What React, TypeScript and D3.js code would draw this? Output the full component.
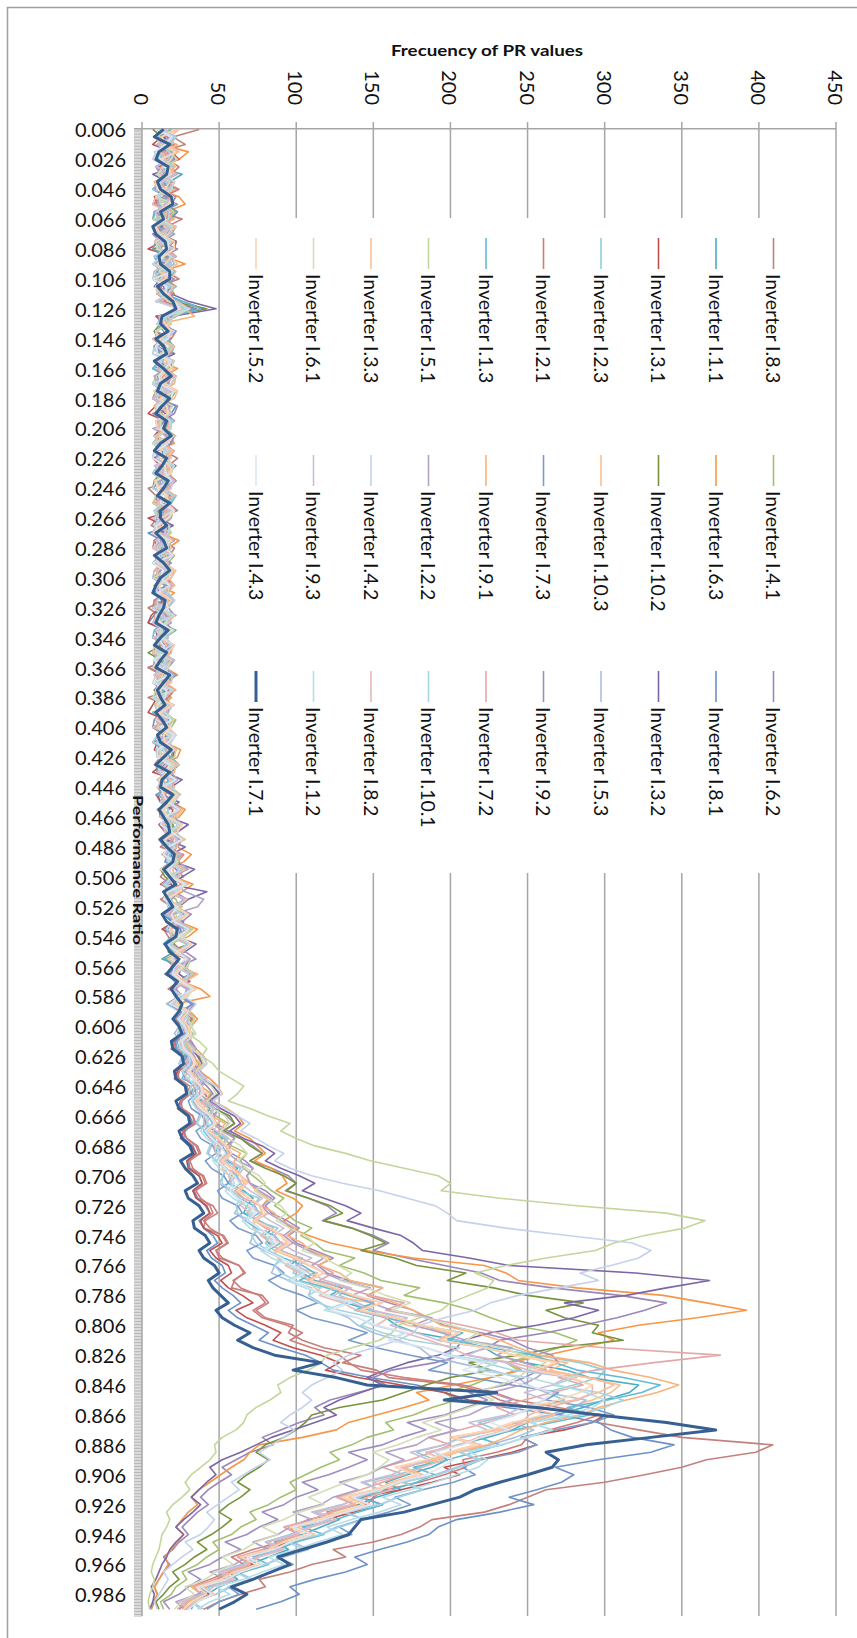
import React from 'react';
import * as d3 from 'd3';

const WIDTH = 857;
const HEIGHT = 1638;

const seriesNames = [
  'Inverter I.8.3', 'Inverter I.4.1', 'Inverter I.6.2',
  'Inverter I.1.1', 'Inverter I.6.3', 'Inverter I.8.1',
  'Inverter I.3.1', 'Inverter I.10.2', 'Inverter I.3.2',
  'Inverter I.2.3', 'Inverter I.10.3', 'Inverter I.5.3',
  'Inverter I.2.1', 'Inverter I.7.3', 'Inverter I.9.2',
  'Inverter I.1.3', 'Inverter I.9.1', 'Inverter I.7.2',
  'Inverter I.5.1', 'Inverter I.2.2', 'Inverter I.10.1',
  'Inverter I.3.3', 'Inverter I.4.2', 'Inverter I.8.2',
  'Inverter I.6.1', 'Inverter I.9.3', 'Inverter I.1.2',
  'Inverter I.5.2', 'Inverter I.4.3', 'Inverter I.7.1',
];

const seriesColors = [
  '#C4807D', '#A3C070', '#9B87BA',
  '#4BACC6', '#F79646', '#6C91C8',
  '#C0504D', '#77933C', '#7C66A6',
  '#92CDDC', '#FAC090', '#A7C0DE',
  '#D07C79', '#7B9BCB', '#A08DBF',
  '#62BCD3', '#F9B37A', '#E2A9A8',
  '#C3D69B', '#B3A2C7', '#A5D5E2',
  '#FABF9A', '#C4D2EA', '#E6B9B8',
  '#D3DDB8', '#C8BEDA', '#B7DEE8',
  '#FCD5B5', '#DCE6F2', '#376092',
];

// Performance-ratio bins sampled every 0.005, from 0.006 to 0.996
const prSamples = d3.range(199).map((i) => +(0.006 + 0.005 * i).toFixed(3));
const categoryTickLabels = d3.range(50).map((i) => (0.006 + 0.02 * i).toFixed(3));
const frequencyTicks = [0, 50, 100, 150, 200, 250, 300, 350, 400, 450];

const inverterI83 = [
  37,20,28,12,17,24,19,9,10,18,19,11,26,16,12,22,21,14,7,15,
  24,11,17,22,31,18,15,20,10,13,21,8,12,19,17,11,7,16,19,9,
  15,21,10,14,23,17,12,20,4,9,17,23,10,6,15,12,21,18,7,20,
  12,16,10,14,4,11,15,19,10,16,7,12,17,8,12,18,4,15,10,21,
  15,11,7,19,12,8,17,22,10,14,19,10,15,18,23,13,17,25,21,16,
  12,19,24,12,19,27,23,14,17,21,26,15,21,18,28,20,24,16,27,
  22,26,28,20,22,29,30,23,24,31,32,25,26,33,35,27,29,36,38,30,
  31,40,42,34,36,46,49,41,40,53,56,48,50,63,66,60,58,78,82,74,
  80,98,95,104,118,142,130,152,160,204,222,232,252,300,295,322,350,409,398,366,
  350,326,300,262,250,238,222,188,180,168,150,124,132,110,96,76,80,64,50,40,
];
const inverterI41 = [
  15,9,21,13,10,20,19,8,12,17,7,22,17,11,15,20,10,14,19,8,
  12,18,21,11,25,16,10,21,15,9,17,12,7,18,12,22,19,13,10,20,
  15,8,12,19,17,10,7,16,10,22,15,11,19,9,12,17,10,21,17,12,
  7,18,15,8,10,20,12,16,17,9,10,14,7,19,15,11,12,18,10,22,
  19,11,12,20,15,9,10,23,17,12,19,14,15,24,21,11,17,20,23,14,
  19,26,15,22,24,13,21,17,19,29,26,16,23,19,21,30,27,18,28,
  24,28,33,31,27,30,37,35,33,38,45,42,43,48,56,52,53,58,68,64,
  66,72,78,84,92,86,93,99,110,103,112,118,138,128,144,155,180,170,196,214,
  226,240,268,282,270,255,236,244,226,214,196,204,188,176,158,163,146,136,122,128,
  116,106,96,100,90,82,70,74,64,58,46,50,42,36,26,29,22,19,12,14,
];
const inverterI62 = [
  15,20,10,16,21,9,17,13,12,22,19,8,7,18,17,11,23,14,10,19,
  15,9,12,21,28,14,17,8,10,20,15,12,19,10,12,18,10,23,21,13,
  15,19,7,14,17,9,12,20,10,16,15,10,19,13,10,21,12,17,7,15,
  17,9,10,20,15,11,12,18,7,16,10,21,17,13,12,8,15,19,7,14,
  10,18,19,12,12,22,17,10,15,24,21,13,12,19,19,26,23,15,17,22,
  27,16,21,29,24,17,19,25,26,14,23,31,28,20,24,18,27,22,30,
  33,28,30,26,29,34,36,31,37,42,46,40,47,55,60,53,64,72,78,70,
  84,95,100,93,108,120,126,117,136,150,160,150,172,196,220,232,266,310,340,326,
  308,286,262,232,224,208,190,162,150,158,140,122,112,118,102,90,78,85,70,61,
  52,58,50,43,38,43,36,31,26,30,24,20,14,18,14,11,8,10,8,6,
];
const inverterI11 = [
  21,15,12,23,17,9,26,18,7,20,15,11,10,22,19,9,12,16,17,13,
  7,19,15,24,32,10,12,20,10,15,19,8,15,21,7,14,12,18,17,9,
  10,21,15,8,7,17,12,14,19,9,10,22,12,16,7,19,15,10,10,20,
  17,8,12,19,7,15,10,22,15,11,12,17,4,13,10,21,17,9,12,18,
  7,20,15,10,10,24,19,13,12,21,17,11,15,25,19,14,23,17,15,27,
  21,14,17,28,24,16,19,30,23,18,21,13,26,31,23,19,24,20,28,
  22,25,30,27,25,29,31,33,37,34,32,39,44,41,40,47,52,49,48,56,
  62,58,56,66,72,68,66,76,85,79,82,90,102,96,104,112,130,122,132,148,
  158,165,178,205,222,230,248,275,290,322,316,300,286,268,250,240,224,205,190,198,
  188,172,158,168,152,140,120,128,116,104,86,95,82,70,56,62,50,42,34,32,
];
const inverterI63 = [
  19,14,12,30,24,11,15,20,10,24,28,16,17,9,12,22,21,15,28,13,
  15,22,10,18,26,12,19,9,12,20,17,11,23,14,10,21,15,8,19,13,
  12,18,21,9,10,16,17,22,15,10,7,20,19,11,12,24,17,9,10,19,
  15,8,21,14,10,22,12,17,17,9,7,18,15,23,12,10,19,14,10,20,
  17,11,15,25,23,13,12,20,21,15,19,28,24,14,17,22,23,32,27,16,
  21,33,26,17,19,27,24,36,30,18,23,20,27,34,26,38,44,22,31,
  36,32,28,31,35,40,42,37,44,49,52,46,55,62,66,60,70,75,80,73,
  84,91,94,87,98,104,100,92,96,108,122,145,176,222,236,244,282,338,366,392,
  360,322,296,306,284,262,238,246,226,202,178,186,170,152,134,126,104,76,70,66,
  58,51,44,37,32,36,30,26,22,27,23,19,15,17,14,11,8,10,7,6,
];
const inverterI81 = [
  10,22,17,9,12,18,21,11,7,16,15,23,19,12,10,20,17,8,12,19,
  7,14,15,26,40,13,10,18,17,9,12,21,7,16,15,8,10,22,19,12,
  12,20,7,13,15,9,10,19,17,11,12,15,10,20,4,13,15,8,12,18,
  7,16,10,21,15,8,4,14,12,19,10,9,7,17,15,12,10,20,12,8,
  7,18,17,10,10,22,15,12,19,9,12,24,17,14,21,11,15,23,19,13,
  23,16,17,27,21,14,19,25,24,17,21,30,23,15,26,20,24,32,28,
  20,25,27,22,21,27,29,24,23,29,31,26,25,31,33,28,27,33,35,30,
  31,37,39,33,36,41,44,37,40,46,49,42,45,52,54,47,52,59,64,56,
  62,72,82,76,90,106,116,124,148,178,196,208,236,272,296,304,318,345,330,296,
  268,280,272,256,238,254,232,204,192,186,172,154,138,146,132,112,96,102,90,74,
];
const inverterI31 = [
  17,13,7,19,24,10,12,21,19,8,10,16,15,9,21,13,4,20,17,11,
  12,22,10,17,35,9,15,20,7,13,19,10,12,18,10,14,17,9,4,15,
  12,8,15,20,7,12,19,9,10,17,12,21,4,14,17,8,10,16,7,19,
  15,9,10,18,12,6,4,16,10,20,15,9,7,14,12,18,10,7,4,15,
  12,19,10,8,17,13,7,22,15,10,12,20,19,11,15,24,21,14,17,26,
  19,12,23,17,17,28,21,13,24,20,19,29,26,16,23,21,27,18,24,
  20,24,26,21,19,26,28,23,21,28,30,25,23,30,32,27,25,32,35,29,
  30,37,39,33,35,42,44,38,40,49,52,44,48,56,58,51,56,65,72,61,
  68,80,90,85,98,116,128,119,140,168,196,212,252,300,292,274,246,256,240,218,
  196,206,188,168,142,156,138,118,100,110,96,80,64,72,60,48,38,43,34,28,
];
const inverterI102 = [
  7,13,17,9,12,20,21,11,10,18,15,9,19,14,12,22,7,16,17,10,
  15,21,10,19,42,14,12,8,17,20,10,13,15,22,19,9,7,17,12,20,
  17,9,10,16,15,21,12,8,7,18,19,11,10,14,15,20,12,9,10,17,
  17,11,7,19,12,8,15,20,10,13,4,12,12,19,17,8,10,16,15,21,
  7,16,12,22,19,10,10,18,17,24,15,11,12,20,21,14,17,25,19,12,
  15,21,23,14,19,28,24,16,21,31,17,22,26,15,23,34,28,19,27,
  32,30,26,27,33,37,40,35,38,46,50,42,47,57,60,53,64,70,78,70,
  80,92,100,94,108,122,130,118,136,148,158,142,164,178,210,198,228,250,286,262,
  274,296,292,312,268,244,212,226,200,184,170,156,128,110,106,100,92,80,74,82,
  76,68,62,70,64,56,50,58,52,45,36,42,34,28,20,24,18,14,9,11,
];
const inverterI32 = [
  10,14,19,11,15,21,7,16,23,9,12,18,17,13,10,22,21,9,15,19,
  12,8,19,30,48,20,10,17,15,9,21,12,12,19,7,15,17,10,15,21,
  10,16,19,9,12,22,17,11,7,18,15,8,10,20,12,14,19,9,10,17,
  15,21,7,13,12,19,17,9,10,16,19,11,12,20,7,14,15,9,10,18,
  17,10,12,20,21,14,15,26,19,12,24,17,17,30,23,16,28,19,21,34,
  26,18,42,30,24,16,27,22,23,35,28,19,26,24,31,18,27,33,25,
  31,30,25,27,32,36,39,33,38,46,50,44,51,60,64,57,66,78,86,80,
  90,102,112,104,118,132,142,133,150,168,176,182,212,238,320,368,340,314,274,296,
  280,256,226,208,204,192,172,158,146,156,142,128,118,126,112,98,84,74,64,52,
  44,48,42,37,32,38,33,27,22,27,22,18,16,13,11,9,6,8,7,5,
];
const inverterI23 = [
  12,17,19,8,15,21,10,14,21,9,17,11,12,20,7,16,15,10,19,13,
  10,22,17,9,27,14,15,20,12,8,7,18,17,12,10,21,15,9,12,17,
  19,11,7,18,10,14,15,9,12,21,17,8,10,16,7,19,12,10,15,20,
  10,15,17,8,12,19,7,13,10,21,15,10,12,17,10,14,7,20,17,11,
  12,19,15,9,10,21,12,17,19,11,15,23,17,13,21,16,12,25,19,14,
  23,15,17,28,21,14,24,19,19,29,23,17,26,20,21,30,27,16,24,
  30,27,23,26,32,30,27,31,39,36,33,37,46,43,40,44,55,51,48,53,
  64,61,57,63,76,72,68,74,88,83,80,86,104,100,98,108,134,128,140,150,
  166,182,196,204,238,256,284,300,296,280,262,274,256,240,218,230,208,196,178,190,
  180,166,144,154,142,130,112,122,108,96,80,88,74,64,50,55,44,38,24,29,
];
const inverterI103 = [
  24,18,15,11,19,22,10,17,23,9,12,20,17,14,21,10,10,19,15,22,
  19,9,12,23,31,16,17,9,10,20,15,12,21,8,12,18,7,14,17,10,
  15,22,10,17,19,9,12,20,17,11,10,21,15,9,7,16,19,12,12,19,
  10,21,17,9,15,18,10,13,12,20,7,15,17,9,10,19,15,11,12,20,
  10,16,19,11,15,24,12,18,21,12,17,26,23,14,15,22,21,13,19,27,
  24,16,17,29,23,15,26,19,21,32,24,18,27,21,23,33,28,20,31,
  26,29,32,27,25,31,36,34,30,33,42,40,36,39,50,46,44,48,58,54,
  52,57,68,64,62,67,78,73,72,78,92,86,88,94,114,108,112,120,150,142,
  160,172,200,192,222,242,276,264,288,310,304,292,276,266,244,228,200,216,200,188,
  170,182,168,156,134,146,130,118,100,111,96,87,68,77,62,55,40,46,34,28,
];
const inverterI53 = [
  10,21,17,9,12,16,19,11,7,20,15,9,12,22,17,13,10,18,21,12,
  15,20,10,16,27,11,12,19,17,9,10,14,7,20,15,11,19,9,12,21,
  10,15,17,8,12,20,7,13,15,21,10,17,19,9,12,16,10,19,15,8,
  7,18,12,21,17,9,10,14,15,20,10,8,7,17,12,19,15,10,10,20,
  17,10,12,21,10,16,15,11,12,22,19,13,17,25,15,20,21,14,17,24,
  19,13,23,17,19,28,24,15,21,30,23,18,26,16,24,32,28,19,27,
  28,24,21,26,30,28,24,27,34,32,30,35,40,37,35,41,48,45,43,48,
  55,53,50,57,66,63,60,68,76,72,70,79,90,86,84,95,110,108,116,122,
  134,140,150,166,180,186,204,226,244,250,262,288,280,264,240,254,242,226,206,218,
  204,190,170,182,166,154,132,144,126,116,98,108,92,80,62,72,58,48,32,40,
];
const inverterI21 = [
  12,16,21,9,10,19,17,11,24,14,7,20,15,9,19,13,12,22,10,18,
  17,9,21,14,30,16,12,22,19,8,10,17,15,21,7,13,17,9,12,19,
  10,20,19,9,15,11,7,18,12,21,17,10,10,16,15,8,7,19,12,15,
  10,19,17,8,7,16,12,20,15,9,10,18,4,13,12,21,17,9,10,16,
  7,20,15,10,12,18,10,22,17,11,15,24,21,13,17,20,12,27,23,14,
  19,26,17,13,24,18,21,30,19,16,26,20,23,31,24,17,27,21,26,
  22,26,27,20,22,28,29,24,23,29,31,25,26,33,34,26,29,35,37,31,
  33,39,41,35,38,44,46,40,44,52,55,48,52,63,67,59,64,76,80,72,
  78,94,104,96,110,128,134,142,170,208,228,242,270,296,282,264,250,246,230,208,
  210,196,180,158,150,146,130,108,96,100,90,72,58,66,56,44,32,39,30,24,
];
const inverterI73 = [
  15,19,10,21,19,9,12,18,17,11,23,14,10,20,15,9,7,17,19,11,
  12,21,17,9,34,16,10,22,15,8,12,19,19,11,10,17,7,15,17,10,
  12,20,15,9,10,18,19,12,7,16,12,21,15,9,10,19,17,11,12,17,
  7,15,10,20,15,8,12,18,10,21,17,9,7,14,12,20,10,17,15,9,
  12,20,7,14,17,10,10,22,15,19,19,12,12,24,17,11,21,16,15,26,
  19,14,23,18,17,29,21,15,24,19,19,31,23,17,27,20,24,33,26,
  23,26,28,23,22,28,30,26,28,34,35,30,32,39,42,35,38,46,48,41,
  45,53,56,49,52,62,65,57,62,74,78,68,72,86,92,82,90,104,114,100,
  110,130,146,134,152,174,198,186,214,240,270,262,290,306,292,268,246,256,244,220,
  208,216,202,182,164,174,160,142,128,136,120,106,88,98,84,72,56,63,50,42,
];
const inverterI92 = [
  17,10,12,20,21,9,15,19,10,15,19,8,15,21,7,12,17,22,12,9,
  21,13,10,18,30,22,15,9,19,11,12,20,10,16,17,9,15,19,7,14,
  12,21,19,10,10,16,15,22,17,9,10,19,12,15,7,20,15,9,19,12,
  10,18,12,9,17,21,7,14,15,10,10,19,12,22,17,11,10,16,15,20,
  7,14,12,20,19,11,15,22,17,13,21,26,19,12,15,25,23,17,19,29,
  21,15,24,19,21,32,26,17,23,20,28,35,24,19,27,22,26,34,30,
  34,28,27,32,35,31,33,38,41,38,40,46,50,46,48,56,60,55,58,67,
  72,68,70,80,86,80,84,94,102,95,100,112,124,114,120,134,156,146,160,176,
  184,196,220,240,250,266,270,258,248,236,212,224,210,196,172,184,168,156,134,146,
  134,121,104,114,100,92,78,88,76,68,54,64,52,44,30,38,30,24,14,18,
];
const inverterI13 = [
  19,9,15,22,10,16,21,11,12,20,17,9,7,18,15,12,19,8,10,21,
  17,9,12,26,38,20,10,14,15,21,19,11,7,17,12,20,17,9,10,16,
  15,21,12,9,7,19,17,11,10,22,19,14,12,8,10,20,15,12,7,18,
  12,9,17,20,10,14,15,8,7,19,12,21,10,9,17,14,12,19,7,16,
  15,22,10,13,19,24,12,17,15,10,19,25,17,13,21,27,15,18,19,12,
  23,16,17,28,21,15,24,31,19,14,23,20,27,17,21,32,26,19,28,
  24,27,29,25,23,30,32,28,26,37,39,33,36,43,46,40,44,52,55,48,
  54,61,64,57,62,73,76,67,74,86,90,81,92,104,112,102,120,134,150,138,
  158,180,208,198,226,254,268,282,312,336,324,302,276,290,266,242,218,232,216,198,
  176,190,178,162,140,156,140,126,104,118,100,88,72,82,66,56,38,46,36,28,
];
const inverterI91 = [
  15,9,23,16,12,21,19,8,10,18,17,12,21,9,12,20,15,11,19,14,
  10,21,17,9,28,34,12,20,17,9,10,16,15,22,21,13,12,8,10,19,
  19,11,15,20,10,17,17,9,12,22,7,15,15,10,19,13,10,20,12,8,
  17,21,10,14,15,9,7,18,12,20,19,11,10,16,15,22,12,9,17,13,
  10,19,15,11,12,22,21,14,17,25,15,12,23,18,19,28,17,14,24,20,
  21,30,19,16,26,20,23,33,21,17,27,22,24,36,28,20,26,23,31,
  34,30,26,28,31,33,38,35,34,38,44,41,40,45,54,50,50,55,64,60,
  60,64,70,74,82,78,86,90,100,94,104,109,122,115,128,135,156,147,164,176,
  186,194,216,232,244,258,290,305,330,348,334,314,296,284,262,246,236,224,204,192,
  168,178,162,152,128,139,124,115,92,102,90,82,62,70,58,50,32,39,30,26,
];
const inverterI72 = [
  12,21,17,9,10,16,23,13,15,20,10,14,19,9,12,18,17,22,7,14,
  15,9,19,12,24,17,12,20,10,15,17,9,12,21,15,10,7,17,19,11,
  10,18,12,21,17,9,15,12,10,20,7,16,17,8,12,19,10,14,15,21,
  19,9,10,17,12,20,7,13,15,9,10,19,17,11,12,21,7,16,15,10,
  10,20,12,16,17,9,15,22,19,14,12,24,21,13,17,20,15,26,23,15,
  19,27,17,14,24,19,21,31,26,17,23,20,19,33,27,21,24,18,28,
  25,28,30,26,24,31,33,29,28,38,40,34,36,45,48,42,44,54,58,50,
  54,64,68,60,66,77,82,73,80,92,98,89,102,115,124,115,132,148,170,158,
  184,208,230,244,300,375,332,294,270,286,266,248,230,242,224,206,186,200,188,174,
  156,170,156,142,126,138,122,110,92,102,88,78,62,70,56,47,34,38,28,23,
];
const inverterI51 = [
  17,9,12,18,23,14,10,21,19,11,15,20,7,16,21,10,12,19,17,8,
  10,17,15,21,26,12,19,9,10,20,12,16,17,9,7,18,15,11,19,13,
  10,21,12,8,17,19,10,14,15,9,7,20,12,17,19,10,10,16,15,21,
  12,9,10,19,17,12,7,21,15,10,12,17,10,20,19,11,15,8,12,19,
  17,12,10,22,21,13,15,19,19,25,17,12,23,18,19,27,15,21,24,16,
  21,29,19,15,26,22,23,33,27,19,24,31,30,21,26,34,26,22,28,
  34,32,30,37,42,39,46,50,58,66,62,56,70,82,96,90,100,112,132,148,
  170,192,200,194,232,282,340,365,352,326,306,294,262,236,216,228,224,212,200,194,
  180,166,162,154,136,120,116,108,96,88,90,83,74,68,66,61,52,47,48,44,
  38,32,28,31,26,20,16,18,16,13,12,11,9,7,6,8,7,5,4,5,
];
const inverterI22 = [
  15,20,10,14,19,9,12,21,17,11,10,18,15,9,21,13,12,20,7,16,
  17,9,15,22,26,14,10,18,12,20,19,10,15,8,10,19,17,12,12,21,
  7,16,15,9,10,20,19,12,12,17,10,21,15,9,17,13,7,19,12,10,
  10,20,15,9,12,16,19,11,10,18,7,14,15,21,12,9,10,17,17,12,
  12,21,10,15,15,11,19,23,12,18,17,10,21,26,15,19,19,13,24,30,
  17,22,28,40,36,20,19,27,26,16,23,31,24,18,21,29,27,20,26,
  30,27,25,30,35,32,30,35,42,39,37,43,50,47,46,52,60,57,56,62,
  72,68,70,76,84,78,82,90,98,92,98,108,118,110,118,130,148,136,148,162,
  188,176,194,210,240,230,248,262,256,246,226,240,222,212,190,204,186,178,158,170,
  156,146,128,140,124,116,98,110,96,88,72,82,68,60,44,54,42,36,22,28,
];
const inverterI101 = [
  12,22,19,9,15,20,10,16,17,9,21,13,12,19,10,17,15,8,19,12,
  7,18,12,20,28,15,17,9,10,21,15,11,12,18,7,15,19,10,10,20,
  17,8,12,19,15,10,7,17,10,21,17,9,12,16,15,20,10,14,7,19,
  12,9,17,21,10,14,12,19,15,8,7,16,10,20,15,9,12,18,10,15,
  17,10,7,19,12,22,15,11,19,24,12,17,17,13,19,26,15,20,21,14,
  17,29,23,15,19,25,21,31,24,18,23,20,26,33,24,19,27,22,30,
  26,25,23,27,29,26,24,30,34,32,30,35,40,38,36,41,47,44,42,48,
  55,52,52,58,64,61,62,69,76,71,74,82,92,86,90,100,116,108,114,128,
  150,142,156,174,206,196,222,240,282,266,296,312,300,284,252,266,248,234,206,220,
  206,192,168,182,166,154,130,144,128,116,94,106,90,80,60,70,56,48,32,38,
];
const inverterI33 = [
  23,12,17,24,12,18,21,10,15,20,19,9,10,22,17,11,12,19,23,14,
  15,9,10,20,30,17,19,9,12,21,17,11,10,16,15,23,21,10,12,18,
  17,9,10,20,15,12,19,8,12,17,10,21,17,11,12,18,15,9,10,22,
  19,11,12,17,10,21,17,9,12,16,7,19,15,11,19,9,10,20,12,16,
  17,22,10,14,15,24,12,18,19,12,17,26,21,14,15,23,23,13,19,28,
  17,20,24,16,21,30,23,18,19,32,26,17,24,21,28,35,27,22,30,
  26,30,31,27,26,32,34,30,33,39,40,35,40,46,48,43,49,54,56,51,
  58,64,66,61,70,76,78,72,82,90,94,86,98,108,118,108,124,136,156,140,
  164,180,206,192,224,240,270,258,290,306,296,280,252,268,250,232,202,220,204,188,
  168,182,166,154,136,148,130,118,100,112,96,85,68,78,64,55,40,47,34,28,
];
const inverterI42 = [
  10,19,15,9,7,16,19,12,12,20,17,9,10,18,15,11,21,13,7,17,
  12,20,17,9,23,14,10,21,15,9,7,18,12,22,19,11,10,16,17,9,
  12,19,7,15,15,10,10,20,19,12,12,8,10,18,17,11,7,19,12,16,
  15,8,10,21,7,14,17,10,12,19,10,15,15,9,7,20,12,17,10,13,
  15,22,19,11,12,20,17,13,10,24,21,12,15,19,19,26,17,14,23,18,
  19,29,21,15,17,26,24,18,23,32,26,20,21,30,28,19,27,35,31,
  28,32,34,29,32,39,42,37,41,48,52,46,54,62,70,64,74,82,92,86,
  96,110,130,154,172,190,198,204,236,276,318,330,322,304,284,296,270,244,226,216,
  196,180,176,166,150,134,124,130,120,110,104,110,104,96,90,99,92,84,76,83,
  74,66,58,63,56,49,42,47,43,38,28,33,26,20,14,17,14,11,8,10,
];
const inverterI82 = [
  10,20,15,9,19,13,12,21,17,9,7,16,15,20,12,8,19,14,10,18,
  17,9,15,21,26,13,12,19,7,15,17,10,15,22,10,16,12,9,19,12,
  10,19,15,8,7,17,12,21,17,11,10,18,15,9,12,20,7,14,17,10,
  10,21,12,16,15,9,10,19,7,13,15,20,12,8,17,12,10,21,12,15,
  7,19,15,11,12,22,17,10,15,24,19,13,12,26,21,15,17,23,19,12,
  23,17,15,28,21,16,24,19,19,31,26,18,23,20,21,32,27,21,28,
  31,26,24,28,33,31,27,30,37,34,33,37,43,40,40,44,50,47,48,52,
  60,56,58,63,69,64,70,75,82,77,84,89,100,93,102,110,124,115,130,139,
  160,152,170,186,200,211,240,260,276,292,292,283,262,251,246,236,218,206,184,196,
  182,170,150,162,146,136,114,126,110,100,82,92,76,68,52,60,46,40,24,30,
];
const inverterI61 = [
  17,9,12,21,19,14,10,18,15,9,21,13,12,20,17,9,10,19,15,11,
  19,9,12,17,31,21,17,9,10,18,12,21,19,11,15,8,10,20,17,12,
  12,19,7,14,15,21,19,9,10,16,12,20,17,10,10,18,15,9,12,17,
  7,18,17,10,10,20,15,12,12,8,10,19,17,13,12,9,7,16,15,21,
  10,17,19,12,12,21,17,11,15,22,21,14,17,25,19,13,15,20,23,16,
  21,28,17,14,24,19,23,31,26,17,21,29,27,20,24,33,30,21,28,
  30,32,35,29,32,38,40,35,38,45,48,42,46,54,57,51,56,64,68,62,
  68,76,80,73,80,90,94,87,96,106,112,104,118,127,136,128,146,158,174,162,
  184,200,218,210,232,248,262,250,244,232,216,228,212,198,182,194,178,166,150,160,
  154,146,132,120,108,118,102,92,78,88,74,66,52,59,48,41,28,34,26,21,
];
const inverterI93 = [
  15,21,10,18,17,9,21,13,12,20,15,9,10,17,19,11,12,21,17,8,
  7,16,15,22,27,12,12,19,17,9,10,20,15,12,12,18,7,15,19,9,
  12,20,10,16,17,8,15,21,10,13,12,19,7,14,15,9,17,20,10,15,
  12,8,15,20,10,14,7,17,17,9,12,21,10,15,15,9,12,19,10,16,
  15,11,17,22,12,16,10,20,17,12,15,24,19,13,17,23,21,15,17,26,
  23,14,19,28,21,17,24,31,21,16,23,30,26,19,24,32,28,20,27,
  31,27,25,29,34,31,29,34,40,37,35,40,47,44,42,48,56,52,50,57,
  66,62,64,70,78,72,76,83,92,85,90,98,110,101,108,119,136,124,136,149,
  172,161,178,192,222,211,236,250,276,266,248,262,246,236,212,224,206,196,174,186,
  172,162,142,154,140,130,110,122,108,98,80,90,74,66,50,58,46,40,26,31,
];
const inverterI12 = [
  12,20,17,9,10,16,15,21,19,11,12,18,17,9,10,19,15,12,7,17,
  19,10,12,21,30,16,10,19,15,9,17,12,12,20,7,14,15,9,10,18,
  19,11,12,17,10,21,17,9,7,16,15,20,12,8,10,18,17,11,12,20,
  15,9,7,16,12,21,10,13,15,19,12,8,17,15,10,20,7,12,15,19,
  12,20,10,14,17,10,12,22,15,18,19,12,15,24,17,13,21,17,17,25,
  19,15,23,18,21,29,19,16,24,31,23,18,26,20,24,33,27,19,28,
  23,27,29,24,25,31,31,26,30,35,36,32,35,41,43,38,42,48,50,46,
  50,57,60,54,59,67,72,65,70,80,86,77,84,96,104,94,106,120,132,118,
  140,150,170,160,184,200,230,218,250,270,288,300,292,276,252,266,250,232,212,224,
  218,204,190,174,156,168,154,136,120,130,114,100,82,92,78,66,48,57,44,36,
];
const inverterI52 = [
  21,13,15,22,12,17,19,9,10,20,17,11,15,9,12,21,21,14,10,18,
  15,9,17,21,25,12,15,19,12,9,10,17,19,11,15,22,12,16,17,9,
  10,20,15,12,12,18,19,9,10,16,17,21,12,14,7,19,15,10,10,20,
  17,11,12,19,15,9,10,17,12,21,17,10,7,16,15,12,10,20,12,9,
  19,14,15,21,10,18,17,11,15,23,19,13,17,26,23,15,15,21,21,12,
  19,27,24,16,21,30,19,18,26,32,23,19,27,21,24,34,28,22,30,
  26,30,32,25,28,33,35,31,34,38,40,36,40,45,48,43,50,55,58,52,
  58,64,68,62,70,77,80,73,84,90,96,88,100,109,118,109,126,138,156,142,
  166,182,206,194,222,242,268,254,278,292,284,270,250,260,240,226,202,216,198,184,
  164,178,164,150,130,144,128,114,96,106,92,82,64,74,60,51,36,42,32,27,
];
const inverterI43 = [
  10,19,15,9,12,18,17,11,10,20,19,12,15,8,10,17,17,13,12,20,
  7,16,15,21,24,13,12,18,17,9,10,19,15,11,12,20,19,10,10,16,
  12,20,17,9,7,15,15,19,10,13,12,21,17,9,10,16,15,20,7,14,
  12,18,10,15,17,9,12,20,10,14,15,8,12,19,7,16,15,10,10,19,
  12,21,17,10,10,18,15,22,12,14,17,24,15,12,19,26,17,14,21,17,
  19,28,17,14,23,19,21,30,24,16,23,29,21,20,26,33,24,18,27,
  24,28,30,26,27,32,34,30,33,38,39,34,38,44,47,41,45,51,54,49,
  54,60,63,57,62,70,74,68,76,83,88,80,90,98,106,97,108,120,136,122,
  140,152,172,160,184,198,222,208,232,248,266,260,252,242,226,238,220,208,190,202,
  194,184,166,154,136,148,132,118,98,110,96,86,68,78,64,55,38,46,36,30,
];
const inverterI71 = [
  14,8,18,11,9,17,16,10,12,19,20,12,14,7,9,15,16,11,12,18,
  18,10,14,20,22,13,12,17,9,14,16,8,14,19,12,10,18,13,9,16,
  14,19,12,8,16,13,9,17,14,10,18,12,12,16,9,14,16,8,14,18,
  12,9,7,15,14,11,9,17,12,8,16,12,9,18,14,10,12,15,9,13,
  16,10,12,19,14,9,18,13,12,20,16,11,14,17,18,12,16,21,20,14,
  18,22,14,17,20,13,16,23,22,15,18,24,20,16,23,19,22,26,24,
  20,24,26,19,20,26,27,21,22,28,29,22,24,30,31,24,26,31,33,25,
  28,33,36,28,30,37,40,33,34,41,44,37,40,47,50,43,46,51,56,48,
  52,60,70,62,72,86,116,98,126,146,230,196,256,296,340,372,330,288,262,270,
  266,250,232,216,206,188,170,142,138,134,120,104,88,96,84,72,58,68,60,50,
];

const seriesValues = [
  inverterI83, inverterI41, inverterI62,
  inverterI11, inverterI63, inverterI81,
  inverterI31, inverterI102, inverterI32,
  inverterI23, inverterI103, inverterI53,
  inverterI21, inverterI73, inverterI92,
  inverterI13, inverterI91, inverterI72,
  inverterI51, inverterI22, inverterI101,
  inverterI33, inverterI42, inverterI82,
  inverterI61, inverterI93, inverterI12,
  inverterI52, inverterI43, inverterI71,
];

const FONT = "Lato, 'Open Sans', 'Liberation Sans', sans-serif";

export default function App() {
  const plotTop = 128.7;
  const plotBottom = 1616;
  const x = d3.scaleLinear().domain([0, 450]).range([142, 836]);
  const y = d3.scaleLinear().domain([0.0055, 1.0005]).range([plotTop, plotBottom]);

  const line = d3
    .line<number>()
    .x((d) => x(d))
    .y((_d, i) => y(prSamples[i]));

  // one small tick per 0.001 bin along the category axis
  const binEdges = d3.range(996).map((i) => 0.0055 + 0.001 * i);
  const binTickPath = binEdges.map((p) => `M134,${y(p).toFixed(2)}H142`).join('');

  const legendColX = (col: number) => 256 + 57.5 * col;
  const legendGroupY = [238, 455, 671];
  const lastSeries = seriesValues.length - 1;

  return (
    <svg
      width={WIDTH}
      height={HEIGHT}
      style={{ position: 'absolute', left: 0, top: 0, background: '#fff' }}
      fontFamily={FONT}
    >
      <rect x={0} y={0} width={WIDTH} height={HEIGHT} fill="#fff" />
      <rect x={7.5} y={7.5} width={920} height={1700} fill="none" stroke="#a0a0a0" strokeWidth={1.5} />

      <text
        x={487}
        y={50}
        textAnchor="middle"
        dominantBaseline="central"
        fontSize={15}
        fontWeight="bold"
        textLength={192}
        lengthAdjust="spacingAndGlyphs"
        fill="#111"
      >
        Frecuency of PR values
      </text>

      {/* frequency gridlines and their ticks above the axis */}
      {frequencyTicks.map((v) => (
        <line key={`g${v}`} x1={x(v)} x2={x(v)} y1={122} y2={plotBottom} stroke="#a6a6a6" strokeWidth={1.5} />
      ))}
      <line x1={134} x2={x(450)} y1={plotTop} y2={plotTop} stroke="#a6a6a6" strokeWidth={1.5} />
      <path d={binTickPath} stroke="#a6a6a6" strokeWidth={0.8} fill="none" />

      {frequencyTicks.map((v) => (
        <text
          key={`t${v}`}
          transform={`translate(${x(v)},105) rotate(90)`}
          textAnchor="end"
          dominantBaseline="central"
          fontSize={20}
          fill="#111"
        >
          {v}
        </text>
      ))}

      {categoryTickLabels.map((lab) => (
        <text
          key={lab}
          x={126}
          y={y(+lab)}
          textAnchor="end"
          dominantBaseline="central"
          fontSize={20}
          fill="#111"
        >
          {lab}
        </text>
      ))}

      <text
        transform="translate(138,870) rotate(90)"
        textAnchor="middle"
        dominantBaseline="central"
        fontSize={14}
        fontWeight="bold"
        textLength={150}
        lengthAdjust="spacingAndGlyphs"
        fill="#111"
      >
        Performance Ratio
      </text>

      {/* series, drawn in legend order so the last one sits on top */}
      <g fill="none" strokeLinejoin="round">
        {seriesValues.map((vals, s) => (
          <path
            key={seriesNames[s]}
            d={line(vals) || ''}
            stroke={seriesColors[s]}
            strokeWidth={s === lastSeries ? 3 : 1.6}
          />
        ))}
      </g>

      {/* legend */}
      <rect x={230} y={218} width={570} height={655} fill="#fff" />
      {seriesNames.map((name, s) => {
        const col = 9 - Math.floor(s / 3);
        const grp = s % 3;
        const cx = legendColX(col);
        const y0 = legendGroupY[grp];
        return (
          <g key={`l${name}`}>
            <line
              x1={cx}
              x2={cx}
              y1={y0}
              y2={y0 + 31}
              stroke={seriesColors[s]}
              strokeWidth={s === lastSeries ? 3 : 1.6}
            />
            <text
              transform={`translate(${cx},${y0 + 36}) rotate(90)`}
              textAnchor="start"
              dominantBaseline="central"
              fontSize={19.5}
              fill="#111"
            >
              {name}
            </text>
          </g>
        );
      })}
    </svg>
  );
}
